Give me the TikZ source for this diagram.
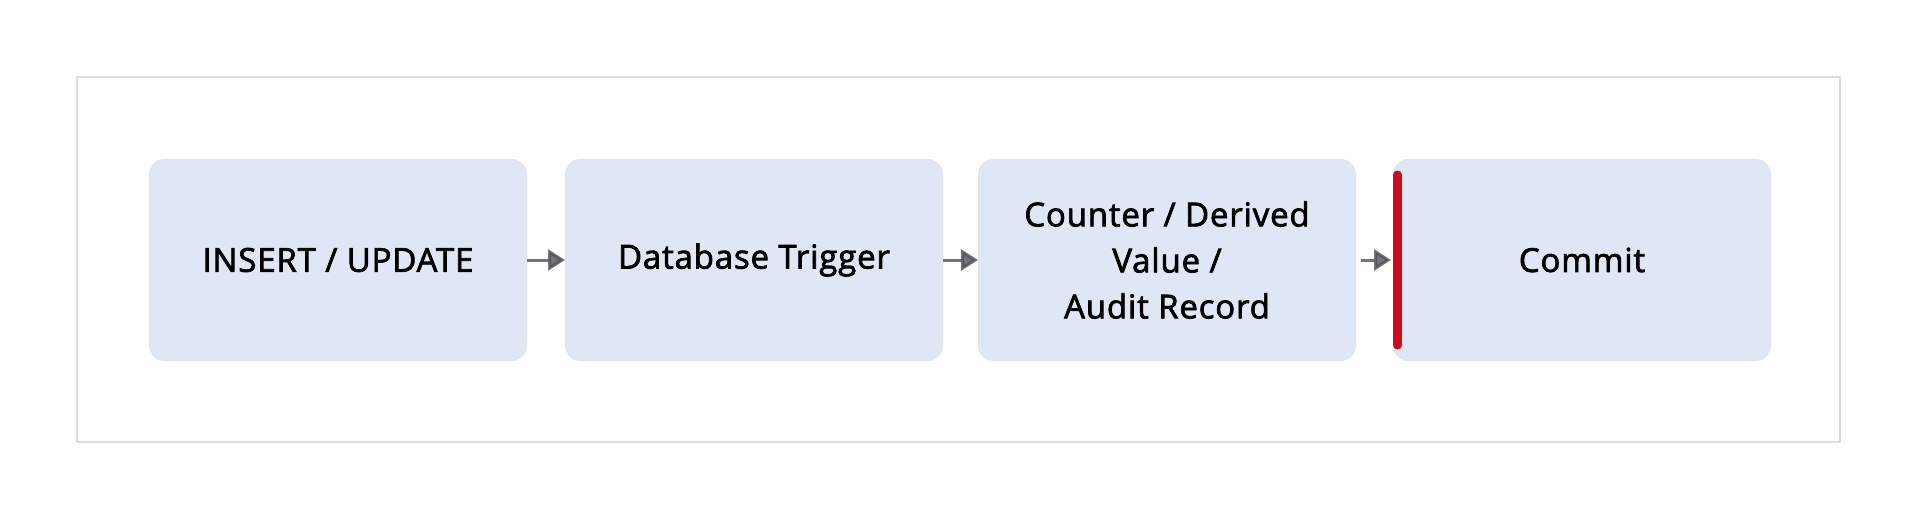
\documentclass[tikz,border=0pt]{standalone}
\usepackage{fontspec}
\setmainfont{Open Sans}
\newfontfamily\boxfont{Open Sans}[FakeBold=2.2,LetterSpace=2.5]
\usetikzlibrary{arrows.meta}
\definecolor{boxfill}{HTML}{DFE6F5}
\definecolor{boxline}{HTML}{E2E4EA}
\definecolor{framecol}{HTML}{DDDDDD}
\definecolor{arrowcol}{HTML}{4A4D55}
\definecolor{barred}{HTML}{CC0A1A}
\tikzset{
  stepbox/.style={draw=boxline, line width=1pt, fill=boxfill, rounded corners=15pt,
    minimum width=377pt, minimum height=201pt, inner sep=0pt, anchor=north west,
    align=center, font=\boxfont\fontsize{33}{46}\selectfont, text=black},
  flow/.style={draw=arrowcol, line width=3pt, opacity=0.78,
    -{Triangle[length=17pt,width=21pt]}}
}
\begin{document}
\begin{tikzpicture}[x=1pt,y=-1pt]
\useasboundingbox (0,0) rectangle (1920,520);
\fill[white] (0,0) rectangle (1920,520);
\draw[framecol, line width=2pt] (77,77) rectangle (1840,442);
\node[stepbox] (a) at (149,159) {INSERT / UPDATE};
\node[stepbox] (b) at (565,159) {Database Trigger};
\node[stepbox] (c) at (978,159) {Counter / Derived\\Value /\\Audit Record};
\node[stepbox] (d) at (1393,159) {Commit};
\draw[barred, line width=9pt, line cap=round] ([xshift=4.5pt,yshift=-16pt]d.north west) coordinate (r1) -- ([xshift=4.5pt,yshift=16pt]d.south west) coordinate (r2);
\draw[flow] (a.east) -- (b.west);
\draw[flow] (b.east) -- (c.west);
\draw[flow] ([xshift=5pt]c.east) -- ([xshift=-2pt]d.west);
\end{tikzpicture}
\end{document}
